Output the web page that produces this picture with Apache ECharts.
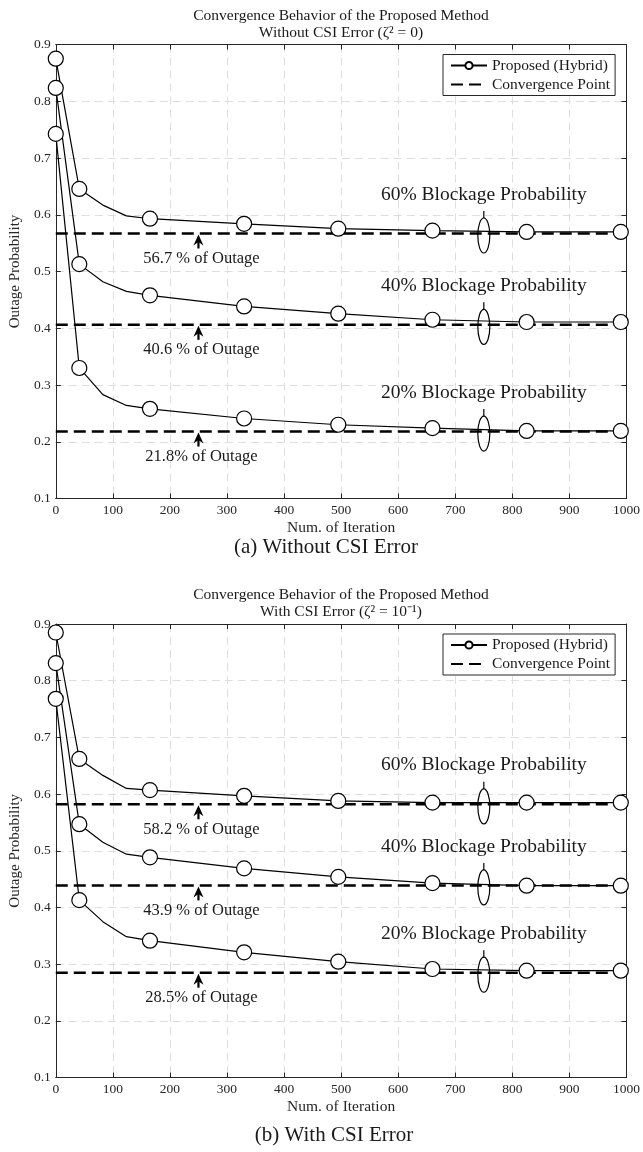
<!DOCTYPE html>
<html>
<head>
<meta charset="utf-8">
<script src="https://cdn.jsdelivr.net/npm/echarts@6/dist/echarts.min.js"></script>
<style>
  html, body { margin: 0; padding: 0; background: #fff; }
  #chart { width: 643px; height: 1152px; }
</style>
</head>
<body>
<div id="chart"></div>
<script>
// Iteration indices at which the curves are sampled
const iterations = [0, 41.25, 82.5, 123.75, 165, 330, 495, 660, 825, 990];
// Sample positions that carry a circle marker
const markerIndices = [0, 1, 4, 5, 6, 7, 8, 9];

// (a) Without CSI error
const noErr60 = [0.875, 0.6455, 0.617, 0.598, 0.593, 0.584, 0.5755, 0.572, 0.5697, 0.5697];
const noErr40 = [0.8235, 0.513, 0.482, 0.465, 0.458, 0.4385, 0.4256, 0.415, 0.411, 0.411];
const noErr20 = [0.7425, 0.330, 0.283, 0.264, 0.258, 0.241, 0.230, 0.224, 0.219, 0.219];
const noErrConv = [0.567, 0.406, 0.218];
const noErrConvLabels = ['56.7 % of Outage', '40.6 % of Outage', '21.8% of Outage'];

// (b) With CSI error
const csi60 = [0.885, 0.662, 0.633, 0.610, 0.607, 0.597, 0.588, 0.585, 0.585, 0.585];
const csi40 = [0.831, 0.547, 0.515, 0.494, 0.4885, 0.469, 0.454, 0.443, 0.4385, 0.4385];
const csi20 = [0.768, 0.413, 0.375, 0.3485, 0.3415, 0.321, 0.3045, 0.2915, 0.2886, 0.2886];
const csiConv = [0.582, 0.439, 0.285];
const csiConvLabels = ['58.2 % of Outage', '43.9 % of Outage', '28.5% of Outage'];

const blockageLabels = ['60% Blockage Probability', '40% Blockage Probability', '20% Blockage Probability'];

// Axis ranges / ticks
const xMin = 0, xMax = 1000, xStep = 100;
const yMin = 0.1, yMax = 0.9, yStep = 0.1;

// Annotation anchors (iteration index)
const arrowIter = 250;
const ellipseIter = 750;

const SERIF = '"Liberation Serif", "Times New Roman", serif';
const INK = '#262626';

const gridBoxes = [
  { left: 52.5, top: 44.5, width: 576.5, height: 454 },
  { left: 52.5, top: 624, width: 576.5, height: 453.6 }
];

function bottomX(gi) {
  return {
    type: 'value', gridIndex: gi, min: xMin, max: xMax, interval: xStep, position: 'bottom',
    name: 'Num. of Iteration', nameLocation: 'middle', nameGap: 21,
    nameTextStyle: { fontFamily: SERIF, fontSize: 15.5, color: INK },
    axisLine: { show: true, onZero: false, lineStyle: { color: INK, width: 1 } },
    axisTick: { show: true, inside: true, length: 5, lineStyle: { color: INK } },
    axisLabel: { show: true, margin: 5, fontFamily: SERIF, fontSize: 13.5, color: INK,
      formatter: v => String(v) },
    splitLine: { show: true, lineStyle: { color: '#dedede', type: [8, 5], width: 1 } }
  };
}
function topX(gi) {
  return {
    type: 'value', gridIndex: gi, min: xMin, max: xMax, interval: xStep, position: 'top',
    axisLine: { show: true, onZero: false, lineStyle: { color: INK, width: 1 } },
    axisTick: { show: true, inside: true, length: 5, lineStyle: { color: INK } },
    axisLabel: { show: false }, splitLine: { show: false }
  };
}
function leftY(gi) {
  return {
    type: 'value', gridIndex: gi, min: yMin, max: yMax, interval: yStep, position: 'left',
    name: 'Outage Probability', nameLocation: 'middle', nameGap: 26,
    nameTextStyle: { fontFamily: SERIF, fontSize: 15, color: INK },
    axisLine: { show: true, onZero: false, lineStyle: { color: INK, width: 1 } },
    axisTick: { show: true, inside: true, length: 5, lineStyle: { color: INK } },
    axisLabel: { show: true, margin: 5, fontFamily: SERIF, fontSize: 13.5, color: INK,
      formatter: v => v.toFixed(1) },
    splitLine: { show: true, lineStyle: { color: '#dedede', type: [8, 5], width: 1 } }
  };
}
function rightY(gi) {
  return {
    type: 'value', gridIndex: gi, min: yMin, max: yMax, interval: yStep, position: 'right',
    axisLine: { show: true, onZero: false, lineStyle: { color: INK, width: 1 } },
    axisTick: { show: true, inside: true, length: 5, lineStyle: { color: INK } },
    axisLabel: { show: false }, splitLine: { show: false }
  };
}

function curveData(values) {
  return iterations.map((x, k) =>
    markerIndices.includes(k) ? [x, values[k]] : { value: [x, values[k]], symbol: 'none' });
}

function proposedSeries(gi, values) {
  return {
    name: 'Proposed (Hybrid)', type: 'line', xAxisIndex: gi * 2, yAxisIndex: gi * 2,
    data: curveData(values), symbol: 'circle', symbolSize: 15, showAllSymbol: true,
    lineStyle: { color: '#000', width: 1.2 },
    itemStyle: { color: '#fff', borderColor: '#000', borderWidth: 1.2 },
    z: 5, silent: true
  };
}

function convergenceSeries(gi, v) {
  return {
    name: 'Convergence Point', type: 'line', xAxisIndex: gi * 2, yAxisIndex: gi * 2,
    data: [[xMin, v], [xMax, v]], symbol: 'none',
    lineStyle: { color: '#000', width: 2.5, type: [12, 6] },
    itemStyle: { color: '#000' },
    z: 3, silent: true
  };
}

function annotationSeries(gi, conv, convLabels) {
  return {
    type: 'custom', xAxisIndex: gi * 2, yAxisIndex: gi * 2, clip: false, silent: true, z: 10,
    data: conv.map(v => [ellipseIter, v]),
    renderItem(params, api) {
      const i = params.dataIndex;
      const v = api.value(1);
      const a = api.coord([arrowIter, v]);
      const e = api.coord([ellipseIter, v]);
      const ecy = e[1] + 2, ry = 17.5;
      return {
        type: 'group',
        children: [
          { type: 'line', shape: { x1: a[0], y1: a[1] + 7, x2: a[0], y2: a[1] + 15 },
            style: { stroke: '#000', lineWidth: 2.2 } },
          { type: 'polygon',
            shape: { points: [[a[0], a[1] + 1], [a[0] - 5, a[1] + 12], [a[0], a[1] + 8.5], [a[0] + 5, a[1] + 12]] },
            style: { fill: '#000' } },
          { type: 'text', x: a[0] + 3, y: a[1] + 25,
            style: { text: convLabels[i], font: '16.5px ' + SERIF, fill: '#1a1a1a', align: 'center', verticalAlign: 'middle' } },
          { type: 'ellipse', shape: { cx: e[0], cy: ecy, rx: 6, ry: ry },
            style: { fill: 'none', stroke: '#000', lineWidth: 1.2 } },
          { type: 'line', shape: { x1: e[0], y1: ecy - ry, x2: e[0], y2: ecy - ry - 7 },
            style: { stroke: '#000', lineWidth: 1.2 } },
          { type: 'text', x: e[0], y: e[1] - 39,
            style: { text: blockageLabels[i], font: '19.5px ' + SERIF, fill: '#1a1a1a', align: 'center', verticalAlign: 'middle' } }
        ]
      };
    }
  };
}

function legendFor(gi) {
  return {
    data: [
      { name: 'Proposed (Hybrid)' },
      { name: 'Convergence Point', itemStyle: { opacity: 0 } }
    ],
    orient: 'vertical', left: 443, top: gridBoxes[gi].top + 10,
    itemWidth: 36, itemHeight: 9, itemGap: 3,
    padding: [3, 5, 3, 7],
    borderColor: INK, borderWidth: 1, backgroundColor: '#fff', borderRadius: 0,
    textStyle: { fontFamily: SERIF, fontSize: 15.5, color: '#1a1a1a' },
    selectedMode: false
  };
}

function textEl(str, x, y, size) {
  return { type: 'text', x: x, y: y, silent: true,
    style: { text: str, font: size + 'px ' + SERIF, fill: '#1a1a1a', align: 'center', verticalAlign: 'middle' } };
}

const chart = echarts.init(document.getElementById('chart'), null, { renderer: 'canvas' });

const option = {
  animation: false,
  backgroundColor: '#fff',
  grid: gridBoxes.map(g => Object.assign({ containLabel: false }, g)),
  xAxis: [bottomX(0), topX(0), bottomX(1), topX(1)],
  yAxis: [leftY(0), rightY(0), leftY(1), rightY(1)],
  legend: [legendFor(0), legendFor(1)],
  graphic: [
    textEl('Convergence Behavior of the Proposed Method', 341, 16, 15.5),
    textEl('Without CSI Error (ζ² = 0)', 341, 33, 15.5),
    textEl('(a) Without CSI Error', 326, 547, 21),
    textEl('Convergence Behavior of the Proposed Method', 341, 595, 15.5),
    textEl('With CSI Error (ζ² = 10⁻¹)', 341, 612, 15.5),
    textEl('(b) With CSI Error', 334, 1135, 21)
  ],
  series: [
    convergenceSeries(0, noErrConv[0]), convergenceSeries(0, noErrConv[1]), convergenceSeries(0, noErrConv[2]),
    proposedSeries(0, noErr60), proposedSeries(0, noErr40), proposedSeries(0, noErr20),
    annotationSeries(0, noErrConv, noErrConvLabels),
    convergenceSeries(1, csiConv[0]), convergenceSeries(1, csiConv[1]), convergenceSeries(1, csiConv[2]),
    proposedSeries(1, csi60), proposedSeries(1, csi40), proposedSeries(1, csi20),
    annotationSeries(1, csiConv, csiConvLabels)
  ]
};

chart.setOption(option);
</script>
</body>
</html>
